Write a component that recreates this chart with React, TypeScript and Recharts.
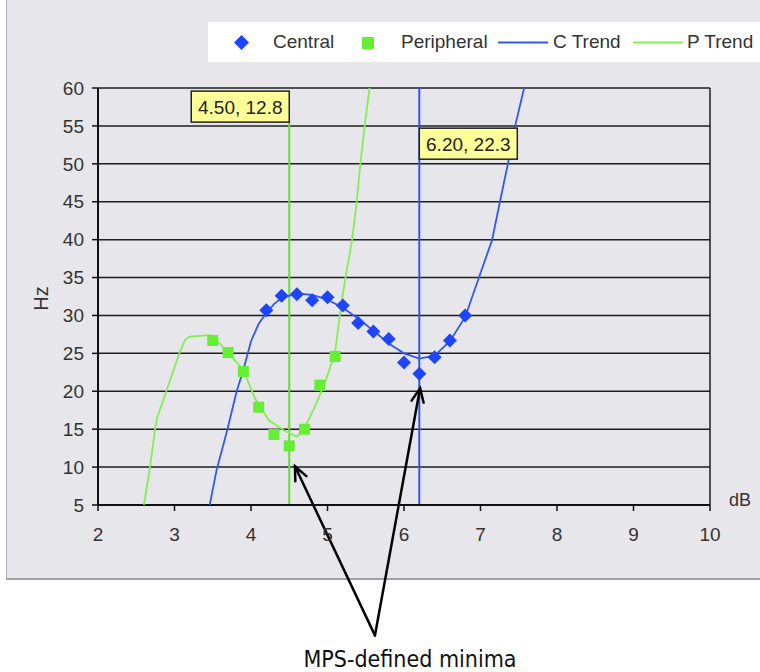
import React from 'react';
import {
  ComposedChart,
  Scatter,
  XAxis,
  YAxis,
  CartesianGrid,
  ReferenceLine,
  ReferenceDot,
} from 'recharts';

// ---- data ----
const xTicks = [2, 3, 4, 5, 6, 7, 8, 9, 10];
const yTicks = [5, 10, 15, 20, 25, 30, 35, 40, 45, 50, 55, 60];

const central = [
  { x: 4.2, y: 30.7 },
  { x: 4.4, y: 32.6 },
  { x: 4.6, y: 32.8 },
  { x: 4.8, y: 32.0 },
  { x: 5.0, y: 32.4 },
  { x: 5.2, y: 31.3 },
  { x: 5.4, y: 29.0 },
  { x: 5.6, y: 27.9 },
  { x: 5.8, y: 26.9 },
  { x: 6.0, y: 23.8 },
  { x: 6.2, y: 22.3 },
  { x: 6.4, y: 24.5 },
  { x: 6.6, y: 26.7 },
  { x: 6.8, y: 30.0 },
];

const peripheral = [
  { x: 3.5, y: 26.7 },
  { x: 3.7, y: 25.1 },
  { x: 3.9, y: 22.6 },
  { x: 4.1, y: 17.9 },
  { x: 4.3, y: 14.3 },
  { x: 4.5, y: 12.8 },
  { x: 4.7, y: 15.0 },
  { x: 4.9, y: 20.8 },
  { x: 5.1, y: 24.6 },
];

const cTrend = [
  { x: 3.46, y: 5.0 },
  { x: 3.55, y: 9.6 },
  { x: 3.69, y: 14.9 },
  { x: 3.81, y: 19.9 },
  { x: 3.9, y: 22.8 },
  { x: 4.0, y: 26.6 },
  { x: 4.1, y: 28.9 },
  { x: 4.2, y: 30.3 },
  { x: 4.3, y: 31.5 },
  { x: 4.4, y: 32.3 },
  { x: 4.6, y: 32.9 },
  { x: 4.8, y: 32.7 },
  { x: 5.0, y: 32.1 },
  { x: 5.2, y: 31.0 },
  { x: 5.4, y: 29.6 },
  { x: 5.6, y: 28.0 },
  { x: 5.8, y: 26.3 },
  { x: 6.0, y: 25.0 },
  { x: 6.2, y: 24.3 },
  { x: 6.4, y: 24.7 },
  { x: 6.6, y: 26.6 },
  { x: 6.8, y: 29.8 },
  { x: 6.99, y: 35.3 },
  { x: 7.15, y: 39.9 },
  { x: 7.25, y: 44.8 },
  { x: 7.36, y: 50.1 },
  { x: 7.46, y: 55.3 },
  { x: 7.57, y: 60.0 },
];

const pTrend = [
  { x: 2.6, y: 5.0 },
  { x: 2.68, y: 10.0 },
  { x: 2.745, y: 14.9 },
  { x: 2.77, y: 16.4 },
  { x: 2.9, y: 20.2 },
  { x: 3.07, y: 25.2 },
  { x: 3.14, y: 26.8 },
  { x: 3.2, y: 27.2 },
  { x: 3.46, y: 27.4 },
  { x: 3.6, y: 26.2 },
  { x: 3.69, y: 25.2 },
  { x: 3.9, y: 22.8 },
  { x: 4.05, y: 19.1 },
  { x: 4.23, y: 16.2 },
  { x: 4.42, y: 14.9 },
  { x: 4.6, y: 14.0 },
  { x: 4.68, y: 14.9 },
  { x: 4.77, y: 16.6 },
  { x: 4.88, y: 19.0 },
  { x: 4.99, y: 21.8 },
  { x: 5.1, y: 25.2 },
  { x: 5.16, y: 30.0 },
  { x: 5.23, y: 34.7 },
  { x: 5.32, y: 39.9 },
  { x: 5.38, y: 44.8 },
  { x: 5.43, y: 50.1 },
  { x: 5.49, y: 55.3 },
  { x: 5.55, y: 60.0 },
];

// annotations
const pMinLabel = '4.50, 12.8';
const cMinLabel = '6.20, 22.3';
const pMinX = 4.5;
const cMinX = 6.2;
const pLabelAnchorY = 55.5; // bottom-right of green label box
const cLabelAnchorY = 54.7; // top-left of blue label box
const arrowOrigin = { x: 5.62, y: -12.2 };
const arrowTipP = { x: 4.575, y: 10.1 };
const arrowTipC = { x: 6.21, y: 20.4 };
const bottomNote = 'MPS-defined minima';

const legendItems = ['Central', 'Peripheral', 'C Trend', 'P Trend'];

// ---- styles ----
const BLUE = '#1f45fc';
const GREEN = '#66ee33';
const BLUE_LINE = '#3358ee';
const GREEN_LINE = '#85ee55';
const FONT = '"Liberation Sans", Arial, sans-serif';
const TEXT = '#333';

const Diamond = (props: any) => {
  const { cx, cy } = props;
  if (cx == null || cy == null) return <g />;
  const r = 7;
  return (
    <polygon
      points={`${cx},${cy - r} ${cx + r},${cy} ${cx},${cy + r} ${cx - r},${cy}`}
      fill={BLUE}
    />
  );
};

const Square = (props: any) => {
  const { cx, cy } = props;
  if (cx == null || cy == null) return <g />;
  const h = 5.5;
  return <rect x={cx - h} y={cy - h} width={2 * h} height={2 * h} fill={GREEN} />;
};

const NoDot = () => <g />;

const Arrow = (props: any) => {
  const { x1, y1, x2, y2 } = props;
  if ([x1, y1, x2, y2].some((v) => v == null || isNaN(v))) return <g />;
  const ang = Math.atan2(y2 - y1, x2 - x1);
  const len = 15;
  const spread = 0.42;
  const ax = x2 - len * Math.cos(ang - spread);
  const ay = y2 - len * Math.sin(ang - spread);
  const bx = x2 - len * Math.cos(ang + spread);
  const by = y2 - len * Math.sin(ang + spread);
  return (
    <g stroke="#000" strokeWidth={2.5} fill="none" strokeLinecap="round">
      <line x1={x1} y1={y1} x2={x2} y2={y2} />
      <polyline points={`${ax},${ay} ${x2},${y2} ${bx},${by}`} />
    </g>
  );
};

const makeLabelBox = (text: string, anchor: 'br' | 'tl') => (props: any) => {
  const { cx, cy } = props;
  if (cx == null || cy == null) return <g />;
  const w = 98;
  const h = 31;
  const x = anchor === 'br' ? cx - w : cx;
  const y = anchor === 'br' ? cy - h : cy;
  return (
    <g>
      <rect x={x} y={y} width={w} height={h} fill="#ffff99" stroke="#222" strokeWidth={1.5} />
      <text
        x={x + w / 2}
        y={y + h / 2 + 7}
        textAnchor="middle"
        fontFamily={FONT}
        fontSize={19}
        fill="#222"
      >
        {text}
      </text>
    </g>
  );
};

const YLabel = (props: any) => {
  const vb = props.viewBox || {};
  const cx = (vb.x ?? 38) + 3;
  const cy = (vb.y ?? 88) + (vb.height ?? 417) / 2 + 2;
  return (
    <text
      x={cx}
      y={cy}
      transform={`rotate(-90 ${cx} ${cy})`}
      textAnchor="middle"
      dominantBaseline="central"
      fontFamily={FONT}
      fontSize={20}
      fill={TEXT}
    >
      Hz
    </text>
  );
};

const XLabel = (props: any) => {
  const vb = props.viewBox || {};
  const x = (vb.x ?? 98) + (vb.width ?? 612) + 30;
  const y = (vb.y ?? 505) + 1;
  return (
    <text x={x} y={y} textAnchor="middle" fontFamily={FONT} fontSize={18} fill={TEXT}>
      dB
    </text>
  );
};

const Legend = () => {
  const base: React.CSSProperties = {
    position: 'absolute',
    top: 0,
    height: 40,
    lineHeight: '40px',
    fontSize: 19,
    color: TEXT,
    fontFamily: FONT,
    whiteSpace: 'nowrap',
  };
  return (
    <div
      style={{
        position: 'absolute',
        left: 208,
        top: 22,
        width: 552,
        height: 40,
        background: '#fff',
      }}
    >
      <svg style={{ position: 'absolute', left: 26, top: 13 }} width={15} height={15}>
        <polygon points="7.5,0 15,7.5 7.5,15 0,7.5" fill={BLUE} />
      </svg>
      <span style={{ ...base, left: 65 }}>{legendItems[0]}</span>
      <svg style={{ position: 'absolute', left: 154, top: 15 }} width={12} height={12}>
        <rect x={0} y={0} width={12} height={12} fill={GREEN} />
      </svg>
      <span style={{ ...base, left: 193 }}>{legendItems[1]}</span>
      <svg style={{ position: 'absolute', left: 290, top: 19 }} width={50} height={3}>
        <line x1={0} y1={1.5} x2={50} y2={1.5} stroke={BLUE_LINE} strokeWidth={2} />
      </svg>
      <span style={{ ...base, left: 345 }}>{legendItems[2]}</span>
      <svg style={{ position: 'absolute', left: 425, top: 19 }} width={50} height={3}>
        <line x1={0} y1={1.5} x2={50} y2={1.5} stroke={GREEN_LINE} strokeWidth={2} />
      </svg>
      <span style={{ ...base, left: 479 }}>{legendItems[3]}</span>
    </div>
  );
};

export default function App() {
  return (
    <div
      style={{
        position: 'absolute',
        left: 0,
        top: 0,
        width: 760,
        height: 672,
        background: '#fff',
        overflow: 'hidden',
      }}
    >
      <div
        style={{
          position: 'absolute',
          left: 6,
          top: 0,
          width: 754,
          height: 580,
          background: '#e6e6eb',
          borderLeft: '1px solid #b0b0b4',
          borderBottom: '2px solid #a0a0a4',
          boxSizing: 'border-box',
        }}
      />
      <Legend />
      <div style={{ position: 'absolute', left: 0, top: 0 }}>
        <ComposedChart
          width={760}
          height={672}
          margin={{ top: 88, right: 50, bottom: 137, left: 38 }}
          style={{ background: 'transparent' }}
        >
          <CartesianGrid
            horizontal
            vertical={false}
            stroke="#1e1e1e"
            strokeWidth={1.5}
            horizontalValues={yTicks}
          />
          <XAxis
            type="number"
            dataKey="x"
            domain={[2, 10]}
            ticks={xTicks}
            allowDataOverflow
            height={30}
            tickSize={6}
            tickMargin={17}
            axisLine={{ stroke: '#111', strokeWidth: 2 }}
            tickLine={{ stroke: '#111', strokeWidth: 1.5 }}
            tick={{ fontSize: 19, fill: TEXT, fontFamily: FONT }}
            label={<XLabel />}
          />
          <YAxis
            type="number"
            dataKey="y"
            domain={[5, 60]}
            ticks={yTicks}
            allowDataOverflow
            width={60}
            tickSize={6}
            tickMargin={8}
            axisLine={{ stroke: '#111', strokeWidth: 2 }}
            tickLine={{ stroke: '#111', strokeWidth: 1.5 }}
            tick={{ fontSize: 19, fill: TEXT, fontFamily: FONT }}
            label={<YLabel />}
          />
          <ReferenceLine x={10} stroke="#1e1e1e" strokeWidth={1.5} />
          <Scatter
            data={pTrend}
            line={{ stroke: GREEN_LINE, strokeWidth: 1.8 }}
            lineType="joint"
            shape={NoDot}
            isAnimationActive={false}
          />
          <Scatter
            data={cTrend}
            line={{ stroke: BLUE_LINE, strokeWidth: 1.8 }}
            lineType="joint"
            shape={NoDot}
            isAnimationActive={false}
          />
          <ReferenceLine
            segment={[
              { x: pMinX, y: 5 },
              { x: pMinX, y: pLabelAnchorY },
            ]}
            stroke="#66dd33"
            strokeWidth={2}
            ifOverflow="visible"
          />
          <ReferenceLine
            segment={[
              { x: cMinX, y: 5 },
              { x: cMinX, y: 60 },
            ]}
            stroke="#3355ee"
            strokeWidth={2}
            ifOverflow="visible"
          />
          <Scatter data={central} shape={Diamond} isAnimationActive={false} />
          <Scatter data={peripheral} shape={Square} isAnimationActive={false} />
          <ReferenceDot
            x={pMinX}
            y={pLabelAnchorY}
            r={0}
            ifOverflow="visible"
            shape={makeLabelBox(pMinLabel, 'br')}
          />
          <ReferenceDot
            x={cMinX}
            y={cLabelAnchorY}
            r={0}
            ifOverflow="visible"
            shape={makeLabelBox(cMinLabel, 'tl')}
          />
          <ReferenceLine
            segment={[arrowOrigin, arrowTipP]}
            ifOverflow="visible"
            shape={Arrow}
          />
          <ReferenceLine
            segment={[arrowOrigin, arrowTipC]}
            ifOverflow="visible"
            shape={Arrow}
          />
        </ComposedChart>
      </div>
      <div
        style={{
          position: 'absolute',
          left: 290,
          width: 240,
          top: 645,
          textAlign: 'center',
          fontFamily: '"DejaVu Sans Condensed", "DejaVu Sans", sans-serif',
          fontSize: 23,
          color: '#111',
          lineHeight: '28px',
          whiteSpace: 'nowrap',
        }}
      >
        {bottomNote}
      </div>
    </div>
  );
}
